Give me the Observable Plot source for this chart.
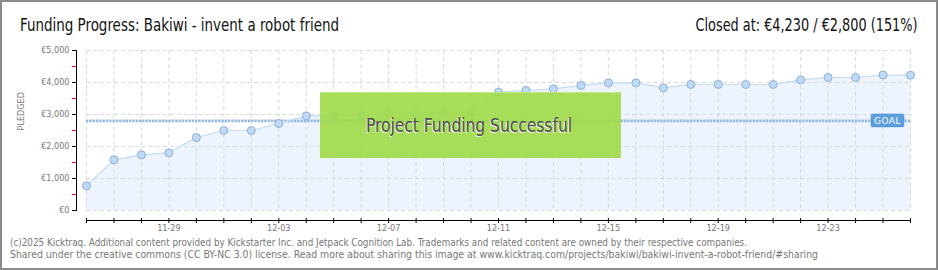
<!DOCTYPE html>
<html><head><meta charset="utf-8">
<script src="https://cdn.jsdelivr.net/npm/d3@7"></script>
<script src="https://cdn.jsdelivr.net/npm/@observablehq/plot@0.6"></script>
<style>
body{margin:0;background:#fff;}
#wrap{position:relative;width:940px;height:270px;overflow:hidden;background:#fff;}
#chart{position:absolute;left:0;top:0;}
.frame{position:absolute;left:0;top:0;width:938px;height:270px;box-sizing:border-box;border:2px solid #8a8a8a;pointer-events:none;}
.hdr{position:absolute;top:13px;font-family:"Liberation Sans Narrow","DejaVu Sans Condensed",sans-serif;font-size:18px;color:#111;white-space:nowrap;line-height:24px;}
.foot{position:absolute;left:10px;font-family:"DejaVu Sans Condensed","DejaVu Sans",sans-serif;font-size:10px;color:#777;white-space:nowrap;line-height:12px;transform-origin:left center;}
.banner{position:absolute;left:320px;top:92px;width:301px;height:66px;background:rgba(160,218,72,0.9);border-top:1px solid #c2ea88;box-sizing:border-box;}
.banner span{position:absolute;left:46px;top:20px;font-family:"Liberation Sans Narrow","DejaVu Sans Condensed",sans-serif;font-size:20px;color:#4e4e4e;text-shadow:-1px 1px 0 #f4f4f4;white-space:nowrap;line-height:24px;transform-origin:left center;}
</style></head><body>
<div id="wrap">
  <div id="chart"></div>
  <div class="banner"><span id="bt">Project Funding Successful</span></div>
  <div class="hdr" id="title" style="left:20px;transform-origin:left center;">Funding Progress: Bakiwi - invent a robot friend</div>
  <div class="hdr" id="closed" style="right:22px;transform-origin:right center;">Closed at: €4,230 / €2,800 (151%)</div>
  <div class="foot" id="f1" style="top:237px;">(c)2025 Kicktraq. Additional content provided by Kickstarter Inc. and Jetpack Cognition Lab. Trademarks and related content are owned by their respective companies.</div>
  <div class="foot" id="f2" style="top:249px;">Shared under the creative commons (CC BY-NC 3.0) license. Read more about sharing this image at www.kicktraq.com/projects/bakiwi/bakiwi-invent-a-robot-friend/#sharing</div>
  <div class="frame"></div>
</div>
<script>
const dates = ["2024-11-26","2024-11-27","2024-11-28","2024-11-29","2024-11-30","2024-12-01","2024-12-02","2024-12-03","2024-12-04","2024-12-05","2024-12-06","2024-12-07","2024-12-08","2024-12-09","2024-12-10","2024-12-11","2024-12-12","2024-12-13","2024-12-14","2024-12-15","2024-12-16","2024-12-17","2024-12-18","2024-12-19","2024-12-20","2024-12-21","2024-12-22","2024-12-23","2024-12-24","2024-12-25","2024-12-26"];
const pledged = [770,1583,1740,1802,2281,2500,2500,2719,2958,2958,2958,3063,3063,3063,3063,3698,3750,3802,3906,3990,3990,3833,3938,3938,3938,3938,4083,4156,4156,4235,4230];
const goal = 2800;
const yTicks = [0,1000,2000,3000,4000,5000];
const yMinorTicks = [500,1500,2500,3500,4500];
const xLabelDates = ["2024-11-29","2024-12-03","2024-12-07","2024-12-11","2024-12-15","2024-12-19","2024-12-23"];

const data = dates.map((d,i)=>({date:new Date(d), pledged:pledged[i]}));
const dayTicks = dates.map(d=>new Date(d));
const labelTicks = xLabelDates.map(d=>new Date(d));
const fmtEuro = d => "€" + d3.format(",")(d);
const fmtDay = d3.utcFormat("%m-%d");

function goalBadge(index, scales, values, dims) {
  const y = scales.y(goal);
  const xr = dims.width - dims.marginRight;
  const g = d3.create("svg:g");
  g.append("rect").attr("x", xr-39).attr("y", y-6.5).attr("width", 33).attr("height", 13).attr("rx", 1.5)
    .attr("fill", "#5b9ee0").attr("stroke", "#4f8fd0").attr("stroke-width", 0.5);
  g.append("text").attr("x", xr-22.5).attr("y", y+3.5).attr("text-anchor", "middle")
    .attr("font-size", "9px").attr("fill", "#ffffff").attr("letter-spacing", "0.5px")
    .attr("font-family", "DejaVu Sans, sans-serif").text("GOAL");
  return g.node();
}

const chart = Plot.plot({
  width: 940, height: 270,
  marginLeft: 86, marginRight: 30, marginTop: 50, marginBottom: 60,
  x: {type: "utc", domain: [dayTicks[0], dayTicks[dayTicks.length-1]]},
  y: {domain: [0, 5000]},
  style: {fontFamily: "DejaVu Sans Condensed, sans-serif", background: "transparent", overflow: "visible"},
  marks: [
    Plot.areaY(data, {x: "date", y: "pledged", fill: "#edf4fd"}),
    Plot.gridY(yTicks, {stroke: "#d6d9de", strokeOpacity: 1, strokeDasharray: "4,3"}),
    Plot.gridX(dayTicks, {stroke: "#d6d9de", strokeOpacity: 1, strokeDasharray: "4,3"}),
    Plot.ruleY([goal], {stroke: "#93b8e4", strokeWidth: 2.6, strokeDasharray: "2.4,0.9"}),
    Plot.line(data, {x: "date", y: "pledged", stroke: "#c3dbf5", strokeWidth: 1.2}),
    Plot.dot(data, {x: "date", y: "pledged", r: 4, fill: "#c0d9f5", stroke: "#8eaed6", strokeWidth: 1}),
    Plot.frame({anchor: "left", dx: -10, stroke: "#000"}),
    Plot.axisY(yTicks, {dx: -10, tickSize: 4, tickPadding: 3, tickFormat: fmtEuro, fontSize: 9, color: "#777", stroke: "#000", label: null}),
    Plot.axisY(yMinorTicks, {dx: -10, tickSize: 4, stroke: "#e00000", text: null, label: null}),
    Plot.frame({anchor: "bottom", dy: 10, stroke: "#000"}),
    Plot.axisX(dayTicks, {dy: 8, tickSize: 5, stroke: "#000", text: null, label: null}),
    Plot.axisX(labelTicks, {dy: 11, tickSize: 0, tickPadding: 3, tickFormat: fmtDay, fontSize: 9, fill: "#777", label: null}),
    Plot.text(["PLEDGED"], {frameAnchor: "left", dx: -65, rotate: -90, text: d => d, fontSize: 9, fill: "#777", letterSpacing: 1}),
    goalBadge
  ]
});
document.getElementById("chart").appendChild(chart);

function fit(id, target) {
  const el = document.getElementById(id);
  const w = el.getBoundingClientRect().width;
  if (w > 0) el.style.transform = `scaleX(${target / w})`;
}
fit("title", 319);
fit("closed", 222);
fit("f1", 737);
fit("f2", 808);
fit("bt", 206);
</script>
</body></html>
